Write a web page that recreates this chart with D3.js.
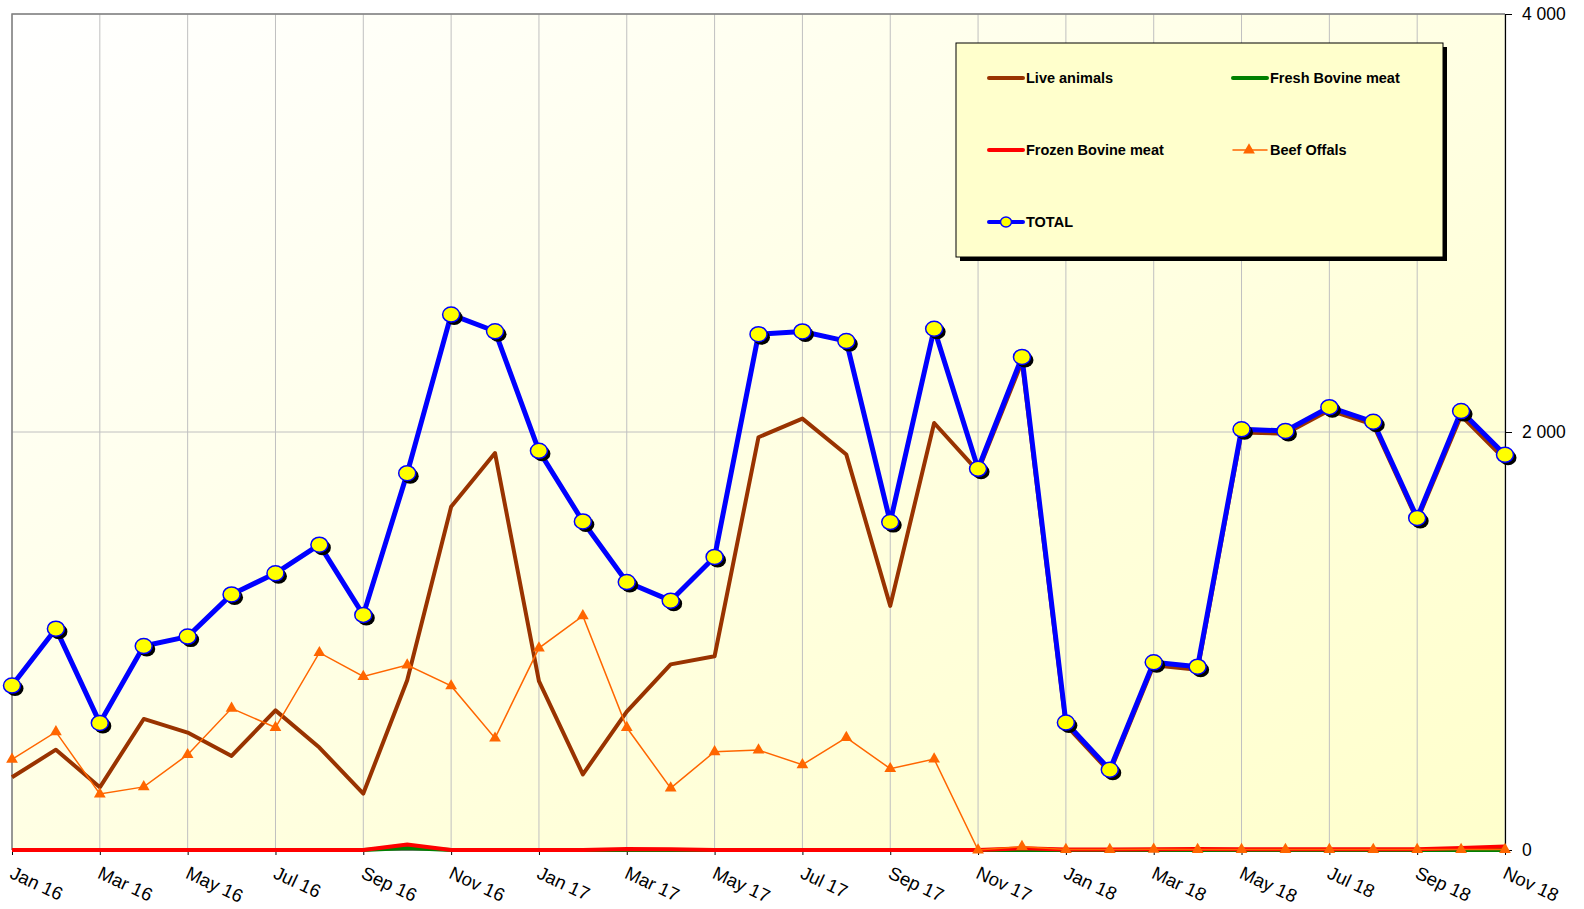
<!DOCTYPE html>
<html>
<head>
<meta charset="utf-8">
<script src="https://cdn.jsdelivr.net/npm/d3@7"></script>
<style>
  body { margin: 0; background: #fff; }
  svg { display: block; font-family: "Liberation Sans", Arial, sans-serif; }
</style>
</head>
<body>
<svg id="chart" width="1584" height="909"></svg>
<script>
// months Jan 16 .. Nov 18
const months = ['Jan 16','Feb 16','Mar 16','Apr 16','May 16','Jun 16','Jul 16','Aug 16','Sep 16','Oct 16','Nov 16','Dec 16',
  'Jan 17','Feb 17','Mar 17','Apr 17','May 17','Jun 17','Jul 17','Aug 17','Sep 17','Oct 17','Nov 17','Dec 17',
  'Jan 18','Feb 18','Mar 18','Apr 18','May 18','Jun 18','Jul 18','Aug 18','Sep 18','Oct 18','Nov 18'];

const liveAnimals = [348, 480, 300, 627, 562, 450, 668, 490, 270, 812, 1642, 1899,
  808, 362, 662, 888, 927, 1975, 2064, 1892, 1168, 2043, 1812, 2335,
  598, 372, 884, 862, 1998, 1992, 2104, 2035, 1578, 2078, 1868];
const freshBovine = [0, 0, 0, 0, 0, 0, 0, 0, 0, 10, 0, 0,
  0, 0, 0, 0, 0, 0, 0, 0, 0, 0, 0, 0,
  0, 0, 0, 0, 0, 0, 0, 0, 0, 0, 0];
const frozenBovine = [0, 0, 0, 0, 0, 0, 0, 0, 0, 26, 0, 0,
  0, 0, 5, 4, 0, 0, 0, 0, 0, 0, 0, 8,
  2, 2, 3, 5, 3, 3, 3, 4, 4, 10, 17];
const beefOffals = [434, 565, 268, 302, 456, 678, 586, 944, 830, 885, 785, 535,
  966, 1120, 586, 296, 470, 478, 408, 538, 389, 435, 0, 16,
  2, 2, 3, 2, 2, 2, 2, 2, 2, 2, 2];
const total = [787, 1059, 608, 976, 1021, 1223, 1324, 1461, 1125, 1803, 2562, 2482,
  1910, 1572, 1282, 1193, 1402, 2468, 2481, 2435, 1569, 2494, 1824, 2359,
  610, 384, 898, 877, 2013, 2005, 2119, 2049, 1589, 2100, 1891];

const yTicks = [0, 2000, 4000];

const svg = d3.select('#chart');
const plotLeft = 12, plotRight = 1505, plotTop = 14, plotBottom = 850;

const x = d3.scalePoint().domain(months).range([plotLeft, plotRight]);
const y = d3.scaleLinear().domain([0, 4000]).range([plotBottom, plotTop]);

// plot background gradient
const defs = svg.append('defs');
const grad = defs.append('linearGradient')
  .attr('id', 'bg').attr('x1', '0%').attr('y1', '0%').attr('x2', '100%').attr('y2', '100%');
grad.append('stop').attr('offset', '0%').attr('stop-color', '#ffffff');
grad.append('stop').attr('offset', '65%').attr('stop-color', '#ffffdb');
grad.append('stop').attr('offset', '100%').attr('stop-color', '#ffffcc');

svg.append('rect')
  .attr('x', plotLeft).attr('y', plotTop)
  .attr('width', plotRight - plotLeft).attr('height', plotBottom - plotTop)
  .attr('fill', 'url(#bg)');

// grid lines
const tickMonths = months.filter((m, i) => i % 2 === 0);
svg.append('g')
  .selectAll('line')
  .data(tickMonths)
  .enter().append('line')
  .attr('x1', d => x(d)).attr('x2', d => x(d))
  .attr('y1', plotTop).attr('y2', plotBottom)
  .attr('stroke', '#c0c0c0').attr('stroke-width', 1);
svg.append('g')
  .selectAll('line')
  .data(yTicks)
  .enter().append('line')
  .attr('x1', plotLeft).attr('x2', plotRight)
  .attr('y1', d => y(d)).attr('y2', d => y(d))
  .attr('stroke', '#c0c0c0').attr('stroke-width', 1);

// plot border (left / top gray)
svg.append('path')
  .attr('d', `M${plotLeft},${plotBottom} V${plotTop} H${plotRight}`)
  .attr('fill', 'none').attr('stroke', '#808080').attr('stroke-width', 1.5);

// right axis
const yAxis = svg.append('g')
  .attr('transform', `translate(${plotRight},0)`)
  .call(d3.axisRight(y).tickValues(yTicks).tickSize(7).tickPadding(10)
    .tickFormat(d => d3.format(',')(d).replace(',', ' ')));
yAxis.select('.domain').attr('stroke', '#000').attr('stroke-width', 1.2);
yAxis.selectAll('.tick text').attr('font-size', 17.5).attr('fill', '#000')
  .attr('font-family', '"Liberation Sans", Arial, sans-serif');

// bottom axis
const xAxis = svg.append('g')
  .attr('transform', `translate(0,${plotBottom})`)
  .call(d3.axisBottom(x).tickValues(tickMonths).tickSize(5).tickFormat(''));
xAxis.select('.domain').attr('stroke', '#808080');
xAxis.selectAll('.tick line').attr('stroke', '#000');

svg.append('g')
  .selectAll('text')
  .data(tickMonths)
  .enter().append('text')
  .attr('transform', d => `translate(${x(d) + 3},${plotBottom + 14}) rotate(25)`)
  .attr('dy', '0.8em')
  .attr('font-size', 18.5)
  .attr('fill', '#000')
  .text(d => d);

// series lines
const line = d3.line().x((d, i) => x(months[i])).y(d => y(d));

svg.append('path').datum(liveAnimals).attr('d', line)
  .attr('fill', 'none').attr('stroke', '#993300').attr('stroke-width', 4).attr('stroke-linejoin', 'round');
svg.append('path').datum(freshBovine).attr('d', line)
  .attr('fill', 'none').attr('stroke', '#008000').attr('stroke-width', 4);
svg.append('path').datum(frozenBovine).attr('d', line)
  .attr('fill', 'none').attr('stroke', '#ff0000').attr('stroke-width', 4);
svg.append('path').datum(beefOffals).attr('d', line)
  .attr('fill', 'none').attr('stroke', '#ff6600').attr('stroke-width', 1.5);

const tri = d3.symbol().type(d3.symbolTriangle).size(60);
svg.append('g')
  .selectAll('path')
  .data(beefOffals)
  .enter().append('path')
  .attr('d', tri)
  .attr('transform', (d, i) => `translate(${x(months[i])},${y(d)})`)
  .attr('fill', '#ff6600');

svg.append('path').datum(total).attr('d', line)
  .attr('fill', 'none').attr('stroke', '#0000ff').attr('stroke-width', 5).attr('stroke-linejoin', 'round');

const markers = svg.append('g');
markers.selectAll('ellipse.shadow')
  .data(total)
  .enter().append('ellipse')
  .attr('class', 'shadow')
  .attr('cx', (d, i) => x(months[i]) + 3).attr('cy', d => y(d) + 3)
  .attr('rx', 8.5).attr('ry', 7.5)
  .attr('fill', '#000');
markers.selectAll('ellipse.dot')
  .data(total)
  .enter().append('ellipse')
  .attr('class', 'dot')
  .attr('cx', (d, i) => x(months[i])).attr('cy', d => y(d))
  .attr('rx', 8.5).attr('ry', 7.5)
  .attr('fill', '#ffff00').attr('stroke', '#0000ff').attr('stroke-width', 1.5);

// legend
const legendItems = [
  { name: 'Live animals', color: '#993300', width: 4, col: 0, row: 0 },
  { name: 'Fresh Bovine meat', color: '#008000', width: 4, col: 1, row: 0 },
  { name: 'Frozen Bovine meat', color: '#ff0000', width: 4, col: 0, row: 1 },
  { name: 'Beef Offals', color: '#ff6600', width: 1.5, col: 1, row: 1, marker: 'tri' },
  { name: 'TOTAL', color: '#0000ff', width: 4, col: 0, row: 2, marker: 'dot' }
];
const lg = svg.append('g').attr('transform', 'translate(956,43)');
lg.append('rect').attr('x', 4).attr('y', 4).attr('width', 487).attr('height', 214).attr('fill', '#000');
lg.append('rect').attr('x', 0).attr('y', 0).attr('width', 487).attr('height', 214)
  .attr('fill', '#ffffcc').attr('stroke', '#000').attr('stroke-width', 1);

const entry = lg.selectAll('g.entry')
  .data(legendItems)
  .enter().append('g')
  .attr('class', 'entry')
  .attr('transform', d => `translate(${33 + d.col * 244},${35 + d.row * 72})`);
entry.append('line')
  .attr('x1', 0).attr('x2', 34).attr('y1', 0).attr('y2', 0)
  .attr('stroke', d => d.color).attr('stroke-width', d => d.width).attr('stroke-linecap', 'round');
entry.filter(d => d.marker === 'tri').append('path')
  .attr('d', tri).attr('transform', 'translate(16,0)').attr('fill', '#ff6600');
entry.filter(d => d.marker === 'dot').append('ellipse')
  .attr('cx', 17).attr('cy', 0).attr('rx', 5.5).attr('ry', 5)
  .attr('fill', '#ffff00').attr('stroke', '#0000ff').attr('stroke-width', 1.5);
entry.append('text')
  .attr('x', 37).attr('y', 0).attr('dy', '0.35em')
  .attr('font-size', 14.5).attr('font-weight', 'bold').attr('fill', '#000')
  .text(d => d.name);
</script>
</body>
</html>
